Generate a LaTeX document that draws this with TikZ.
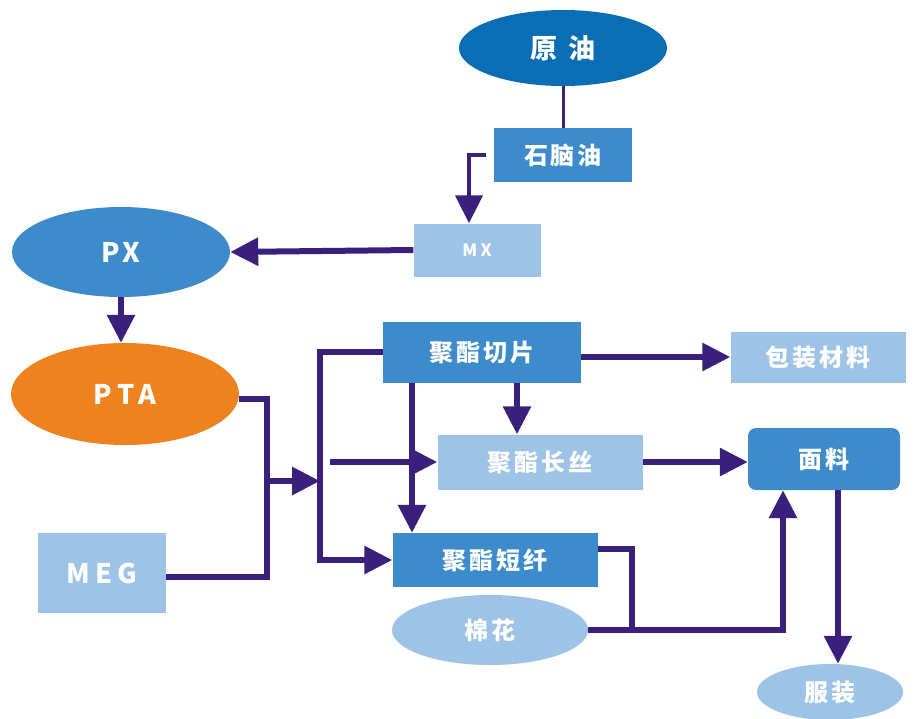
\documentclass[tikz,border=0pt]{standalone}
\usepackage{fontspec}
\setmainfont{Noto Sans CJK SC}
\usetikzlibrary{shapes.geometric,arrows.meta}

\definecolor{darkblue}{HTML}{0B6DB3}
\definecolor{midblue}{HTML}{3D8BCB}
\definecolor{lightblue}{HTML}{9DC3E6}
\definecolor{ptaorange}{HTML}{EE821E}
\definecolor{flowline}{HTML}{3A1F7D}

\begin{document}
\begin{tikzpicture}[x=1pt, y=-1pt,
  every node/.style={text=white, inner sep=0pt,
    font=\bfseries\fontsize{24}{24}\selectfont\addfontfeature{LetterSpace=12}},
  midbox/.style={rectangle, fill=midblue},
  litebox/.style={rectangle, fill=lightblue},
  line/.style={draw=flowline, line width=6pt},
  arrow/.style={line, -{Triangle[length=28pt, width=27pt]}}]
  \useasboundingbox (0,0) rectangle (915,718);

  % Raw materials
  \node[ellipse, fill=darkblue, minimum width=208pt, minimum height=76pt,
        font=\bfseries\fontsize{27}{27}\selectfont] (crude) at (563,48) {原\hspace{12pt}油};
  \node[midbox, minimum width=138pt, minimum height=54pt] (naphtha) at (563,155) {石脑油};
  \node[litebox, minimum width=127pt, minimum height=53pt,
        font=\bfseries\fontsize{17}{17}\selectfont\addfontfeature{LetterSpace=20}] (mx) at (477,250) {MX};
  \node[ellipse, fill=midblue, minimum width=218pt, minimum height=90pt,
        font=\bfseries\fontsize{27}{27}\selectfont\addfontfeature{LetterSpace=15}] (px) at (121,252) {PX};
  \node[ellipse, fill=ptaorange, minimum width=228pt, minimum height=102pt,
        font=\bfseries\fontsize{27}{27}\selectfont\addfontfeature{LetterSpace=20}] (pta) at (125,394) {PTA};
  \node[litebox, minimum width=128pt, minimum height=80pt,
        font=\bfseries\fontsize{27}{27}\selectfont\addfontfeature{LetterSpace=20}] (meg) at (102,573) {MEG};

  % Polyester products
  \node[midbox, minimum width=198pt, minimum height=61pt] (chip) at (482,352) {聚酯切片};
  \node[litebox, minimum width=175pt, minimum height=51pt] (pack) at (818,357) {包装材料};
  \node[litebox, minimum width=205pt, minimum height=55pt] (filament) at (540,462) {聚酯长丝};
  \node[midbox, minimum width=205pt, minimum height=54pt] (staple) at (495,560) {聚酯短纤};
  \node[ellipse, fill=lightblue, minimum width=196pt, minimum height=70pt] (cotton) at (490,630) {棉花};

  % End use
  \node[midbox, rounded corners=8pt, minimum width=152pt, minimum height=62pt] (fabric) at (824,459) {面料};
  \node[ellipse, fill=lightblue, minimum width=146pt, minimum height=56pt] (clothes) at (830,692) {服装};

  % Junctions
  \coordinate (mix) at (267,481);
  \coordinate (bus) at (320,481);
  \coordinate (merge) at (632,631);

  % Upstream flow
  \draw[line, line width=3pt] (crude.south) -- (naphtha.north);
  \draw[arrow, line width=4pt] ([xshift=-8pt]naphtha.west) -| ([xshift=-8pt]mx.north);
  \draw[arrow] (mx.west) -- (px.east);
  \draw[arrow] (px.south) -- (px.south |- pta.north);
  \draw[line] ([yshift=-5pt]pta.east) -| (mix) |- ([yshift=-4pt]meg.east);
  \draw[arrow] (mix) -- (bus);

  % Polyester flow
  \draw[arrow] (chip.west) -| (bus) |- (staple.west);
  \draw[arrow] ([xshift=10pt]bus |- filament.west) -- (filament.west);
  \draw[arrow] (chip.east |- pack.west) -- (pack.west);
  \draw[arrow] ([xshift=35pt]chip.south) -- ([xshift=35pt]chip.south |- filament.north);
  \draw[arrow] ([xshift=-70pt]chip.south) -- ([xshift=-70pt]chip.south |- staple.north);
  \draw[arrow] (filament.east) -- (filament.east -| fabric.west);
  \draw[line] ([yshift=11pt]staple.east) -| (merge);
  \draw[arrow] (cotton.east) -| ([xshift=-41pt]fabric.south);
  \draw[arrow] ([xshift=14pt]fabric.south) -- ([xshift=14pt]fabric.south |- clothes.north);
\end{tikzpicture}
\end{document}
